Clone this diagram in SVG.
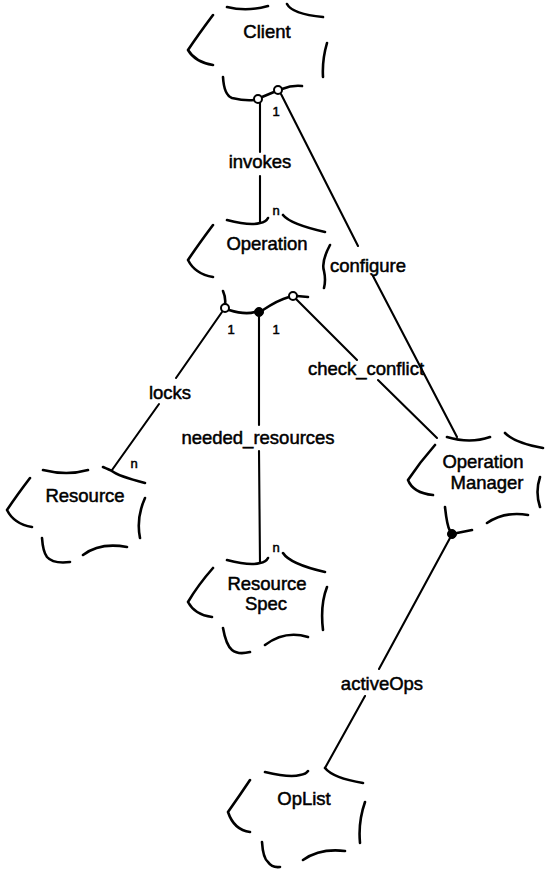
<svg xmlns="http://www.w3.org/2000/svg" width="545" height="869" viewBox="0 0 545 869">
<style>
.c{fill:none;stroke:#000;stroke-width:2.6;stroke-linecap:round;stroke-linejoin:round}
.l{fill:none;stroke:#000;stroke-width:2.1;stroke-linecap:round}
.t{font-family:"Liberation Sans",Arial,sans-serif;font-size:18.5px;fill:#000;stroke:#000;stroke-width:0.5;text-anchor:middle}
.s{font-family:"Liberation Sans",Arial,sans-serif;font-size:13px;fill:#000;stroke:#000;stroke-width:0.5;text-anchor:middle}
.o{fill:#fff;stroke:#000;stroke-width:2}
.f{fill:#000;stroke:#000;stroke-width:1}
</style>
<rect width="545" height="869" fill="#fff"/>
<g id="connectors">
<path class="l" d="M260,103 L260,152 M260,176 L260,223"/>
<path class="l" d="M281,94 L358,246 M373,276 L457,437"/>
<path class="l" d="M296,299 L357,360 M378,380 L437,438"/>
<path class="l" d="M222,312 L176,378 M159,404 L112,470"/>
<path class="l" d="M259,317 L259,425 M259,451 L260,563"/>
<path class="l" d="M450,538 L379,669 M365,696 L325,768"/>
<text class="t" x="260" y="168">invokes</text>
<text class="t" x="368" y="272">configure</text>
<text class="t" x="366" y="375">check_conflict</text>
<text class="t" x="170" y="399">locks</text>
<text class="t" x="258" y="444">needed_resources</text>
<text class="t" x="382" y="690">activeOps</text>
<text class="s" x="276" y="116">1</text>
<text class="s" x="276" y="215">n</text>
<text class="s" x="231" y="334">1</text>
<text class="s" x="276" y="334">1</text>
<text class="s" x="134" y="468">n</text>
<text class="s" x="276" y="552">n</text>
</g>
<g id="client">
<path class="c" d="M227,7 Q247,12 268,6 M287,4 Q292,14 323,17 M213,15 Q198,35 188,50 Q195,62 213,65 M327,43 Q322,60 323,77 M223,77 Q224,95 232,98 Q245,101 254,100 M262,97 L274,92 M282,89 Q292,85 302,86"/>
<circle class="o" cx="258" cy="99" r="4"/>
<circle class="o" cx="278" cy="90" r="4"/>
<text class="t" x="267" y="38">Client</text>
</g>
<g id="operation">
<path class="c" d="M227,220 Q250,226 260,223 Q266,222 268,218 M283,215 Q290,224 325,232 M213,225 Q198,245 188,260 Q195,274 213,277 M330,245 Q321,262 324,271 Q326,280 324,288 M223,291 Q226,298 225,304 M229,310 Q245,315 255,312 M263,310 Q278,300 289,297 M297,296 L308,297"/>
<circle class="o" cx="225" cy="308" r="4"/>
<circle class="f" cx="259" cy="312" r="4.5"/>
<circle class="o" cx="293" cy="296" r="4"/>
<text class="t" x="267" y="250">Operation</text>
</g>
<g id="resource">
<path class="c" d="M43,470 Q67,476 88,470 M103,467 Q110,470 112,471 Q118,476 145,483 M30,478 Q17,495 7,510 Q14,524 32,527 M145,498 Q136,518 140,538 M42,538 Q43,552 47,557 Q53,564 70,562 M83,555 Q100,542 127,547"/>
<text class="t" x="85" y="502">Resource</text>
</g>
<g id="resource-spec">
<path class="c" d="M227,560 Q250,566 260,563 Q266,562 268,558 M283,553 Q290,564 325,572 M213,568 Q198,585 188,602 Q195,615 212,617 M327,587 Q320,605 323,630 M223,628 Q226,645 232,650 Q238,655 250,652 M265,645 Q285,630 308,637"/>
<text class="t" x="267" y="590">Resource</text>
<text class="t" x="266" y="610">Spec</text>
</g>
<g id="operation-manager">
<path class="c" d="M447,437 Q470,444 490,437 M505,433 Q515,443 543,448 M435,445 Q420,462 408,480 Q413,493 433,495 M540,477 Q535,492 540,507 M445,507 Q447,526 450,531 M457,533 L472,530 M487,523 Q505,511 528,515"/>
<circle class="f" cx="452" cy="534" r="4.5"/>
<text class="t" x="483" y="468">Operation</text>
<text class="t" x="487" y="489">Manager</text>
</g>
<g id="oplist">
<path class="c" d="M265,772 Q290,778 300,775 Q306,774 308,771 M325,768 Q333,778 363,783 M250,780 Q240,795 228,812 Q234,830 250,832 M365,802 Q358,822 360,843 M262,842 Q263,858 268,862 Q272,868 280,867 M303,860 Q320,848 345,851"/>
<text class="t" x="304" y="805">OpList</text>
</g>
</svg>
